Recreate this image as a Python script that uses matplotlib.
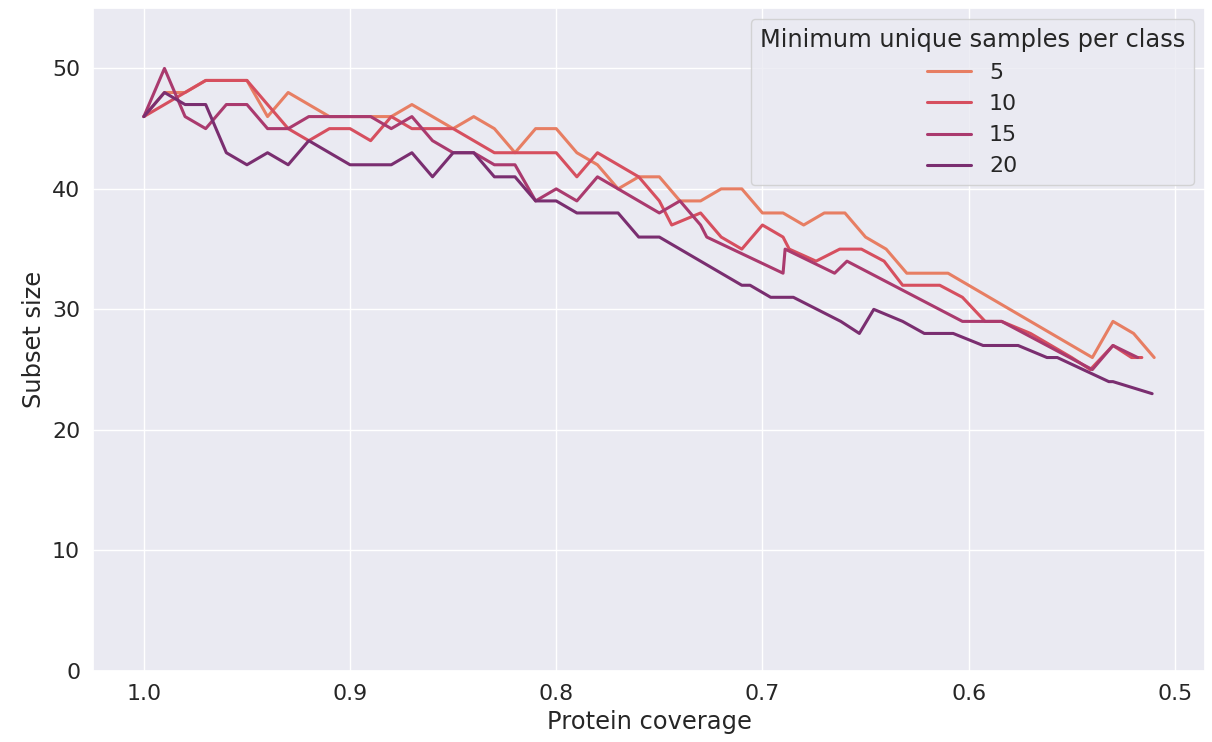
import matplotlib
matplotlib.use("Agg")
import matplotlib.pyplot as plt
import seaborn as sns

# subset size vs. protein coverage, one curve per minimum-samples setting
labels = ["5", "10", "15", "20"]

cov_5 = [1.00, 0.99, 0.98, 0.97, 0.96, 0.95, 0.94, 0.93, 0.92, 0.91,
         0.90, 0.89, 0.88, 0.87, 0.86, 0.85, 0.84, 0.83, 0.82, 0.81,
         0.80, 0.79, 0.78, 0.77, 0.76, 0.75, 0.74, 0.73, 0.72, 0.71,
         0.70, 0.69, 0.68, 0.67, 0.66, 0.65, 0.64, 0.63, 0.62, 0.61,
         0.60, 0.59, 0.58, 0.57, 0.56, 0.55, 0.54, 0.53, 0.52, 0.51]
size_5 = [46, 48, 48, 49, 49, 49, 46, 48, 47, 46,
          46, 46, 46, 47, 46, 45, 46, 45, 43, 45,
          45, 43, 42, 40, 41, 41, 39, 39, 40, 40,
          38, 38, 37, 38, 38, 36, 35, 33, 33, 33,
          32, 31, 30, 29, 28, 27, 26, 29, 28, 26]

cov_10 = [1.00, 0.99, 0.98, 0.97, 0.96, 0.95, 0.94, 0.93, 0.92, 0.91,
          0.90, 0.89, 0.88, 0.87, 0.86, 0.85, 0.84, 0.83, 0.82, 0.81,
          0.80, 0.79, 0.78, 0.77, 0.76, 0.75, 0.744, 0.73, 0.72, 0.71,
          0.70, 0.69, 0.687, 0.674, 0.6625, 0.652, 0.641, 0.632, 0.614, 0.603,
          0.592, 0.584, 0.57, 0.56, 0.55, 0.541, 0.53, 0.521, 0.516]
size_10 = [46, 47, 48, 49, 49, 49, 47, 45, 44, 45,
           45, 44, 46, 45, 45, 45, 44, 43, 43, 43,
           43, 41, 43, 42, 41, 39, 37, 38, 36, 35,
           37, 36, 35, 34, 35, 35, 34, 32, 32, 31,
           29, 29, 28, 27, 26, 25, 27, 26, 26]

cov_15 = [1.00, 0.99, 0.98, 0.97, 0.96, 0.95, 0.94, 0.93, 0.92, 0.91,
          0.90, 0.89, 0.88, 0.87, 0.86, 0.85, 0.84, 0.83, 0.82, 0.81,
          0.80, 0.79, 0.78, 0.77, 0.76, 0.75, 0.74, 0.73, 0.727, 0.69,
          0.689, 0.665, 0.659, 0.603, 0.584, 0.54, 0.53, 0.518]
size_15 = [46, 50, 46, 45, 47, 47, 45, 45, 46, 46,
           46, 46, 45, 46, 44, 43, 43, 42, 42, 39,
           40, 39, 41, 40, 39, 38, 39, 37, 36, 33,
           35, 33, 34, 29, 29, 25, 27, 26]

cov_20 = [1.00, 0.99, 0.98, 0.97, 0.96, 0.95, 0.94, 0.93, 0.92, 0.91,
          0.90, 0.89, 0.88, 0.87, 0.86, 0.85, 0.84, 0.83, 0.82, 0.81,
          0.80, 0.79, 0.78, 0.77, 0.76, 0.75, 0.74, 0.73, 0.72, 0.71,
          0.706, 0.696, 0.685, 0.662, 0.653, 0.646, 0.632, 0.6215, 0.6075, 0.593,
          0.576, 0.562, 0.557, 0.532, 0.53, 0.511]
size_20 = [46, 48, 47, 47, 43, 42, 43, 42, 44, 43,
           42, 42, 42, 43, 41, 43, 43, 41, 41, 39,
           39, 38, 38, 38, 36, 36, 35, 34, 33, 32,
           32, 31, 31, 29, 28, 30, 29, 28, 28, 27,
           27, 26, 26, 24, 24, 23]

sns.set_theme(style="darkgrid", font_scale=1.45)
colors = sns.color_palette("flare", 4)

fig, ax = plt.subplots(figsize=(12.12, 7.42), dpi=100)
series = [(cov_5, size_5), (cov_10, size_10), (cov_15, size_15), (cov_20, size_20)]
for (x, y), lab, c in zip(series, labels, colors):
    ax.plot(x, y, color=c, lw=2.2, label=lab)

ax.invert_xaxis()
ax.set_ylim(0, 55)
ax.set_xlabel("Protein coverage")
ax.set_ylabel("Subset size")
ax.legend(title="Minimum unique samples per class", loc="upper right")

fig.subplots_adjust(left=0.077, right=0.994, bottom=0.096, top=0.989)
fig.savefig("out.png")
